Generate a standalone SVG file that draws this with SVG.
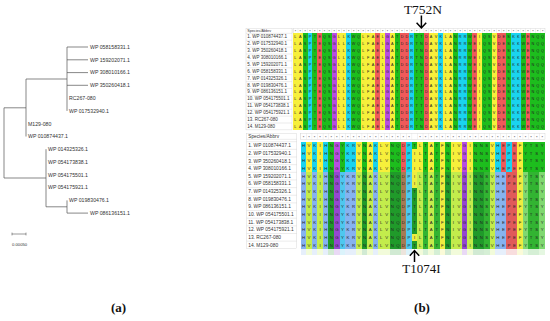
<svg xmlns="http://www.w3.org/2000/svg" xmlns:xlink="http://www.w3.org/1999/xlink" width="550" height="321" viewBox="0 0 550 321">
<style>
.lbl{font-family:"Liberation Sans",Arial,sans-serif;fill:#333}
.tl{font-size:5.2px}
.aa{font-family:"Liberation Sans",Arial,sans-serif;fill:#222;text-anchor:middle}
.cap{font-family:"Liberation Serif","Times New Roman",serif;fill:#111}
.y{fill:#f7ef3b}.g{fill:#1dbd1d}.c{fill:#1ad3ef}.r{fill:#ef5a5a}.p{fill:#b84ee0}
.b{fill:#86b3f0}.l{fill:#c3ec4c}.dg{fill:#209a2a}.g2{fill:#32b432}.p2{fill:#9448d0}.cy{fill:#4ec8ef}.br{fill:#a57b55}.yl{fill:#eeec40}.lg{fill:#7fd870}.r2{fill:#e05a5a}
.cell{fill:#fff;stroke:#c8c8c8;stroke-width:0.35}
</style>
<defs>
<g id="brow" shape-rendering="crispEdges">
<rect class="c" x="0" width="1" height="1"/><rect class="y" x="1" width="1" height="1"/><rect class="c" x="2" width="1" height="1"/><rect class="y" x="3" width="1" height="1"/><rect class="c" x="4" width="1" height="1"/><rect class="g" x="5" width="1" height="1"/><rect class="p" x="6" width="1" height="1"/><rect class="g" x="7" width="1" height="1"/><rect class="c" x="8" width="2" height="1"/><rect class="y" x="10" width="1" height="1"/><rect class="g" x="11" width="1" height="1"/><rect class="y" x="12" width="1" height="1"/><rect class="c" x="13" width="1" height="1"/><rect class="y" x="14" width="2" height="1"/><rect class="g" x="16" width="2" height="1"/><rect class="r" x="18" width="1" height="1"/><rect class="c" x="19" width="1" height="1"/><rect class="y" x="21" width="1" height="1"/><rect class="g" x="22" width="1" height="1"/><rect class="y" x="23" width="1" height="1"/><rect class="g" x="24" width="1" height="1"/><rect class="y" x="25" width="1" height="1"/><rect class="g" x="26" width="1" height="1"/><rect class="y" x="27" width="2" height="1"/><rect class="p" x="29" width="1" height="1"/><rect class="y" x="30" width="1" height="1"/><rect class="g" x="31" width="3" height="1"/><rect class="y" x="34" width="1" height="1"/><rect class="c" x="35" width="1" height="1"/><rect class="r" x="36" width="1" height="1"/><rect class="c" x="37" width="1" height="1"/><rect class="r" x="38" width="1" height="1"/><rect class="y" x="39" width="1" height="1"/><rect class="g" x="40" width="4" height="1"/>
</g>
<g id="arow" shape-rendering="crispEdges">
<rect class="b" x="0" width="1" height="1"/><rect class="l" x="1" width="1" height="1"/><rect class="b" x="2" width="1" height="1"/><rect class="l" x="3" width="1" height="1"/><rect class="b" x="4" width="1" height="1"/><rect class="dg" x="5" width="1" height="1"/><rect class="p2" x="6" width="1" height="1"/><rect class="cy" x="7" width="1" height="1"/><rect class="b" x="8" width="2" height="1"/><rect class="l" x="10" width="1" height="1"/><rect class="dg" x="11" width="1" height="1"/><rect class="l" x="12" width="1" height="1"/><rect class="b" x="13" width="1" height="1"/><rect class="l" x="14" width="2" height="1"/><rect class="dg" x="16" width="2" height="1"/><rect class="br" x="18" width="1" height="1"/><rect class="cy" x="19" width="1" height="1"/><rect class="l" x="21" width="1" height="1"/><rect class="g2" x="22" width="1" height="1"/><rect class="l" x="23" width="1" height="1"/><rect class="g2" x="24" width="1" height="1"/><rect class="yl" x="25" width="1" height="1"/><rect class="dg" x="26" width="1" height="1"/><rect class="l" x="27" width="2" height="1"/><rect class="p2" x="29" width="1" height="1"/><rect class="l" x="30" width="1" height="1"/><rect class="dg" x="31" width="2" height="1"/><rect class="g2" x="33" width="1" height="1"/><rect class="l" x="34" width="1" height="1"/><rect class="b" x="35" width="2" height="1"/><rect class="r2" x="37" width="2" height="1"/><rect class="yl" x="39" width="1" height="1"/><rect class="lg" x="40" width="1" height="1"/><rect class="g2" x="41" width="2" height="1"/><rect class="lg" x="43" width="1" height="1"/>
</g>
<text id="ts" class="aa" font-size="3.8" x="295.4 300.3 305.1 310.0 314.8 319.7 324.5 329.3 334.2 339.0 343.9 348.7 353.6 358.4 363.3 368.1 373.0 377.8 382.7 387.5 392.3 397.2 402.0 406.9 411.7 416.6 426.3 431.1 436.0 440.8 445.7 450.5 455.3 460.2 465.0 469.9 474.7 479.6 484.4 489.3 494.1 499.0 503.8 508.6 513.5 518.3 523.2 528.0 532.9 537.7 542.6" y="0">LASPTEQSGLLKWQLFAELGATDDRTDAVKLANRRWEIQSVDESKKWENQQ</text>
<text id="bs" class="aa" font-size="4.3" x="303.5 309.0 314.6 320.1 325.7 331.2 336.8 342.4 347.9 353.5 359.0 364.6 370.1 375.7 381.2 386.8 392.3 397.9 403.4 409.0 420.1 425.6 431.2 436.8 442.3 447.9 453.4 459.0 464.5 470.1 475.6 481.2 486.7 492.3 497.8 503.4 508.9 514.5 520.0 525.6 531.1 536.7 542.2" y="0">HVKIHNGYKRVNAKLVNQDPLTATFNIVGINNSVHEPEFYTSY</text>
</defs>

<g id="tree">
<path d="M4 107.8V178M4 107.8H26M26 79V136.5M26 79H67M67 47V110.9M67 47H88M67 59.8H88M67 72.6H88M67 85.3H88M4 178H46M46 149.2V206.8M46 206.8H67M67 200.4V213.1M67 213.1H88" fill="none" stroke="#555" stroke-width="0.7"/>
<g class="lbl tl">
<text x="90" y="48.85">WP 058158331.1</text>
<text x="90" y="61.65">WP 159202071.1</text>
<text x="90" y="74.45">WP 308010166.1</text>
<text x="90" y="87.15">WP 350260418.1</text>
<text x="69" y="99.95">RC267-080</text>
<text x="69" y="112.75">WP 017532940.1</text>
<text x="28" y="125.55">M129-080</text>
<text x="28" y="138.35">WP 010874437.1</text>
<text x="48" y="151.05">WP 014325326.1</text>
<text x="48" y="163.85">WP 054173838.1</text>
<text x="48" y="176.65">WP 054175501.1</text>
<text x="48" y="189.45">WP 054175921.1</text>
<text x="69" y="202.25">WP 019830476.1</text>
<text x="90" y="214.95">WP 086136151.1</text>
</g>
</g>
<g id="scale-bar">
<path d="M12 234H26M12 232.6V235.4M26 232.6V235.4" fill="none" stroke="#555" stroke-width="0.6"/>
<text class="lbl" x="12" y="245.5" font-size="4.2">0.00050</text>
</g>
<text class="cap" x="118.5" y="312" font-size="13" font-weight="bold" text-anchor="middle">(a)</text>

<g id="alignment-top">
<rect class="cell" x="246" y="28.3" width="46" height="101.6"/>
<path d="M246 33.3H292M246 40.2H292M246 47.1H292M246 54H292M246 60.9H292M246 67.8H292M246 74.7H292M246 81.6H292M246 88.5H292M246 95.4H292M246 102.3H292M246 109.2H292M246 116.1H292M246 123H292" stroke="#c8c8c8" stroke-width="0.35"/>
<text class="lbl" x="247.3" y="32.1" font-size="3.7">Species/Abbrv</text>
<g class="lbl" font-size="4.5">
<text x="247.3" y="38.2">1. WP 010874437.1</text>
<text x="247.3" y="45.1">2. WP 017532940.1</text>
<text x="247.3" y="52">3. WP 350260418.1</text>
<text x="247.3" y="58.9">4. WP 308010166.1</text>
<text x="247.3" y="65.8">5. WP 159202071.1</text>
<text x="247.3" y="72.7">6. WP 058158331.1</text>
<text x="247.3" y="79.6">7. WP 014325326.1</text>
<text x="247.3" y="86.5">8. WP 019830476.1</text>
<text x="247.3" y="93.4">9. WP 086136151.1</text>
<text x="247.3" y="100.3">10. WP 054175501.1</text>
<text x="247.3" y="107.2">11. WP 054173838.1</text>
<text x="247.3" y="114.1">12. WP 054175921.1</text>
<text x="247.3" y="121">13. RC267-080</text>
<text x="247.3" y="127.9">14. M129-080</text>
</g>
<rect class="cell" x="293" y="28.3" width="252" height="5"/>
<line x1="293" y1="30.8" x2="545" y2="30.8" stroke="#d4d4d4" stroke-width="5" stroke-dasharray="0.3 4.546"/>
<text class="aa" font-size="3.6" x="295.4 300.3 305.1 310.0 314.8 319.7 324.5 329.3 334.2 339.0 343.9 348.7 353.6 358.4 363.3 368.1 373.0 377.8 382.7 387.5 392.3 397.2 402.0 406.9 411.7 416.6 426.3 431.1 436.0 440.8 445.7 450.5 455.3 460.2 465.0 469.9 474.7 479.6 484.4 489.3 494.1 499.0 503.8 508.6 513.5 518.3 523.2 528.0 532.9 537.7 542.6" y="33">***************************************************</text>
<g transform="translate(293 33.3) scale(4.846 6.9)" shape-rendering="crispEdges">
<rect class="y" x="0" width="2" height="14"/><rect class="g" x="2" width="1" height="14"/><rect class="c" x="3" width="1" height="14"/><rect class="g" x="4" width="1" height="14"/><rect class="r" x="5" width="1" height="14"/><rect class="g" x="6" width="2" height="14"/><rect class="p" x="8" width="1" height="14"/><rect class="y" x="9" width="2" height="14"/><rect class="c" x="11" width="1" height="14"/><rect class="g" x="12" width="2" height="14"/><rect class="y" x="14" width="3" height="14"/><rect class="r" x="17" width="1" height="14"/><rect class="y" x="18" width="1" height="14"/><rect class="p" x="19" width="1" height="14"/><rect class="y" x="20" width="1" height="14"/><rect class="g" x="21" width="1" height="14"/><rect class="r" x="22" width="2" height="14"/><rect class="c" x="24" width="1" height="14"/><rect class="g" x="25" width="2" height="14"/><rect class="r" x="27" width="1" height="14"/><rect class="y" x="28" width="2" height="14"/><rect class="c" x="30" width="1" height="14"/><rect class="y" x="31" width="2" height="14"/><rect class="g" x="33" width="1" height="14"/><rect class="c" x="34" width="2" height="14"/><rect class="g" x="36" width="1" height="14"/><rect class="r" x="37" width="1" height="14"/><rect class="y" x="38" width="1" height="14"/><rect class="g" x="39" width="2" height="14"/><rect class="y" x="41" width="1" height="14"/><rect class="r" x="42" width="2" height="14"/><rect class="g" x="44" width="1" height="14"/><rect class="c" x="45" width="2" height="14"/><rect class="g" x="47" width="1" height="14"/><rect class="r" x="48" width="1" height="14"/><rect class="g" x="49" width="3" height="14"/>
</g>
<use xlink:href="#ts" y="38.2"/><use xlink:href="#ts" y="45.1"/><use xlink:href="#ts" y="52"/><use xlink:href="#ts" y="58.9"/><use xlink:href="#ts" y="65.8"/><use xlink:href="#ts" y="72.7"/><use xlink:href="#ts" y="79.6"/><use xlink:href="#ts" y="86.5"/><use xlink:href="#ts" y="93.4"/><use xlink:href="#ts" y="100.3"/><use xlink:href="#ts" y="107.2"/><use xlink:href="#ts" y="114.1"/><use xlink:href="#ts" y="121"/><use xlink:href="#ts" y="127.9"/>
<text class="aa" font-size="3.8" x="421.4 421.4 421.4 421.4 421.4 421.4 421.4 421.4 421.4 421.4 421.4 421.4 421.4 421.4" y="38.2 45.1 52 58.9 65.8 72.7 79.6 86.5 93.4 100.3 107.2 114.1 121 127.9">TNNNNNTTTTTTNN</text>
</g>

<g id="alignment-bottom">
<rect class="cell" x="246.7" y="133.3" width="50" height="115.5"/>
<path d="M246.7 139.3H296.7M246.7 141.7H296.7M246.7 149.35H296.7M246.7 157H296.7M246.7 164.65H296.7M246.7 172.3H296.7M246.7 179.95H296.7M246.7 187.6H296.7M246.7 195.25H296.7M246.7 202.9H296.7M246.7 210.55H296.7M246.7 218.2H296.7M246.7 225.85H296.7M246.7 233.5H296.7M246.7 241.15H296.7" stroke="#c8c8c8" stroke-width="0.35"/>
<text class="lbl" x="248.2" y="137.9" font-size="4.8">Species/Abbrv</text>
<g class="lbl" font-size="4.85">
<text x="248.2" y="147.2">1. WP 010874437.1</text>
<text x="248.2" y="154.85">2. WP 017532940.1</text>
<text x="248.2" y="162.5">3. WP 350260418.1</text>
<text x="248.2" y="170.15">4. WP 308010166.1</text>
<text x="248.2" y="177.8">5. WP 159202071.1</text>
<text x="248.2" y="185.45">6. WP 058158331.1</text>
<text x="248.2" y="193.1">7. WP 014325326.1</text>
<text x="248.2" y="200.75">8. WP 019830476.1</text>
<text x="248.2" y="208.4">9. WP 086136151.1</text>
<text x="248.2" y="216.05">10. WP 054175501.1</text>
<text x="248.2" y="223.7">11. WP 054173838.1</text>
<text x="248.2" y="231.35">12. WP 054175921.1</text>
<text x="248.2" y="239">13. RC267-080</text>
<text x="248.2" y="246.65">14. M129-080</text>
</g>
<rect class="cell" x="300.7" y="133.3" width="244.3" height="6"/>
<line x1="300.7" y1="136.3" x2="545" y2="136.3" stroke="#d4d4d4" stroke-width="6" stroke-dasharray="0.3 5.253"/>
<text class="aa" font-size="4" x="303.5 309.0 314.6 320.1 325.7 331.2 336.8 342.4 347.9 353.5 359.0 364.6 370.1 375.7 381.2 386.8 392.3 397.9 403.4 409.0 420.1 425.6 431.2 436.8 442.3 447.9 453.4 459.0 464.5 470.1 475.6 481.2 486.7 492.3 497.8 503.4 508.9 514.5 520.0 525.6 531.1 536.7 542.2" y="138.6">*******************************************</text>
<use xlink:href="#brow" transform="translate(300.7 141.7) scale(5.553 30.6)"/>
<use xlink:href="#arow" transform="translate(300.7 172.3) scale(5.553 76.5)"/>
<use xlink:href="#arow" transform="translate(300.7 248.8) scale(5.553 5.8)" opacity="0.2"/>
<g shape-rendering="crispEdges">
<rect class="g" x="411.76" y="141.7" width="5.553" height="7.65"/>
<rect class="y" x="411.76" y="149.35" width="5.553" height="22.95"/>
<rect class="yl" x="411.76" y="172.3" width="5.553" height="15.3"/>
<rect class="dg" x="411.76" y="187.6" width="5.553" height="45.9"/>
<rect class="yl" x="411.76" y="233.5" width="5.553" height="7.65"/>
<rect class="dg" x="411.76" y="241.15" width="5.553" height="7.65"/>
</g>
<use xlink:href="#bs" y="147.1"/><use xlink:href="#bs" y="154.75"/><use xlink:href="#bs" y="162.4"/><use xlink:href="#bs" y="170.05"/><use xlink:href="#bs" y="177.7"/><use xlink:href="#bs" y="185.35"/><use xlink:href="#bs" y="193"/><use xlink:href="#bs" y="200.65"/><use xlink:href="#bs" y="208.3"/><use xlink:href="#bs" y="215.95"/><use xlink:href="#bs" y="223.6"/><use xlink:href="#bs" y="231.25"/><use xlink:href="#bs" y="238.9"/><use xlink:href="#bs" y="246.55"/>
<text class="aa" font-size="4.3" x="414.5 414.5 414.5 414.5 414.5 414.5 414.5 414.5 414.5 414.5 414.5 414.5 414.5 414.5" y="147.1 154.75 162.4 170.05 177.7 185.35 193 200.65 208.3 215.95 223.6 231.25 238.9 246.55">TIIIIITTTTTTIT</text>
</g>

<g id="annotations">
<text class="cap" x="423" y="13.5" font-size="13.5" text-anchor="middle">T752N</text>
<path d="M421.4 15.5V28M416.6 22.8L421.4 28L426.2 22.8" fill="none" stroke="#000" stroke-width="1.5"/>
<text class="cap" x="421.5" y="272.5" font-size="13" text-anchor="middle">T1074I</text>
<path d="M414.5 262V250.5M409.8 255.7L414.5 250.5L419.2 255.7" fill="none" stroke="#000" stroke-width="1.5"/>
<text class="cap" x="422" y="312" font-size="13" font-weight="bold" text-anchor="middle">(b)</text>
</g>
</svg>
